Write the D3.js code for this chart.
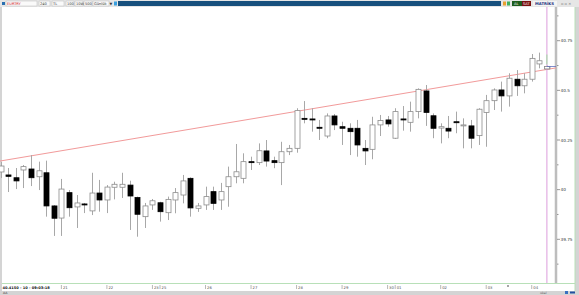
<!DOCTYPE html>
<html>
<head>
<meta charset="utf-8">
<script src="https://cdn.jsdelivr.net/npm/d3@7"></script>
<style>
  body { margin: 0; background: #fff; }
  svg { display: block; font-family: "DejaVu Sans", sans-serif; }
</style>
</head>
<body>
<script>
// candle data (4h bars)
var opens  = [40.089,40.074,40.060,40.099,40.104,40.065,40.085,39.918,39.857,39.985,39.913,39.928,39.893,39.983,39.948,40.012,40.012,40.023,39.960,39.864,39.923,39.934,39.884,39.948,39.973,40.057,39.906,39.923,39.990,39.948,40.015,40.065,40.057,40.141,40.136,40.195,40.146,40.136,40.191,40.208,40.359,40.356,40.314,40.270,40.371,40.317,40.309,40.309,40.208,40.203,40.326,40.351,40.259,40.356,40.339,40.393,40.497,40.372,40.310,40.309,40.342,40.321,40.321,40.272,40.389,40.448,40.502,40.472,40.556,40.523,40.556,40.633,40.608];
var highs  = [40.139,40.109,40.109,40.124,40.174,40.141,40.146,39.922,40.054,39.998,39.973,39.933,40.085,40.049,40.023,40.040,40.085,40.045,39.965,39.933,39.953,39.939,39.965,40.008,40.074,40.062,39.933,40.015,40.015,40.034,40.116,40.230,40.183,40.166,40.233,40.250,40.166,40.241,40.225,40.410,40.446,40.410,40.351,40.384,40.381,40.342,40.334,40.351,40.250,40.367,40.376,40.371,40.410,40.421,40.443,40.510,40.527,40.384,40.334,40.371,40.393,40.359,40.351,40.410,40.477,40.510,40.544,40.586,40.602,40.586,40.683,40.690,40.625];
var lows   = [40.059,39.988,40.003,40.008,40.018,39.998,39.864,39.767,39.767,39.864,39.807,39.882,39.872,39.889,39.882,39.951,39.958,39.797,39.763,39.807,39.898,39.839,39.847,39.881,39.931,39.864,39.888,39.898,39.898,39.898,39.914,40.032,40.032,40.099,40.124,40.116,40.108,40.023,40.174,40.186,40.334,40.292,40.250,40.259,40.300,40.225,40.174,40.166,40.124,40.153,40.270,40.317,40.255,40.297,40.292,40.359,40.321,40.259,40.233,40.259,40.284,40.208,40.208,40.225,40.216,40.401,40.393,40.418,40.472,40.485,40.544,40.611,40.605];
var closes = [40.119,40.067,40.044,40.116,40.060,40.095,39.918,39.856,40.003,39.909,39.933,39.925,39.983,39.948,40.013,40.027,40.027,39.968,39.876,39.918,39.944,39.889,39.951,39.985,40.044,39.908,39.918,39.965,39.931,39.990,40.065,40.090,40.141,40.136,40.196,40.144,40.136,40.191,40.208,40.398,40.354,40.352,40.310,40.371,40.326,40.309,40.292,40.225,40.195,40.326,40.348,40.331,40.393,40.351,40.393,40.505,40.389,40.309,40.317,40.295,40.337,40.326,40.259,40.405,40.448,40.502,40.472,40.561,40.523,40.556,40.661,40.649,40.620];

var dayIdx    = [8,14,20,21,27,33,39,45,51,52,58,64,70];
var dayLabels = ["21","22","23","25","26","27","28","29","30","01","02","03","04"];

var priceTicks  = [39.75,40,40.25,40.5,40.75];
var priceLabels = ["39.75","40","40.25","40.5","40.75"];

// trend line: [bar index, price]
var trendStart = [-0.1, 40.144];
var trendEnd   = [73.2, 40.613];

var width = 579;
var height = 295;
var svg = d3.select('body').append('svg')
  .attr('width', width)
  .attr('height', height);

var x = d3.scaleLinear().domain([0, 72]).range([0.7, 546.9]);
var y = d3.scaleLinear().domain([39.75, 40.75]).range([239.3, 40.7]);

var plotTop = 7, plotBottom = 283, axisX = 556;

// window frame
svg.append('rect').attr('x',0).attr('y',0).attr('width',width).attr('height',height).style('fill','#d4d4d4');
svg.append('rect').attr('x',2).attr('y',plotTop).attr('width',575-2).attr('height',plotBottom-plotTop).style('fill','#fff');
svg.append('rect').attr('x',2).attr('y',plotBottom).attr('width',575-2).attr('height',8).style('fill','#fff');

// top toolbar
var bar = svg.append('g');
bar.append('rect').attr('x',0).attr('y',0).attr('width',width).attr('height',7).style('fill','#e6e6e6');
bar.append('rect').attr('x',2).attr('y',2).attr('width',3).attr('height',3).style('fill','#2a6fb0');
var fields = [[6,31,'EURTRY','#d02020'],[39,11,'240','#333'],[52,12,'TL','#333'],[66,8,'100','#333'],[75,8,'10W','#333'],[84,8,'500','#333'],[93,16,'Günlük','#333']];
fields.forEach(function(f){
  bar.append('rect').attr('x',f[0]).attr('y',1).attr('width',f[1]).attr('height',5).style('fill','#fafafa').style('stroke','#bbb').style('stroke-width',0.5);
  bar.append('text').attr('x',f[0]+1).attr('y',5.2).text(f[2]).style('font-size','3.6px').style('fill',f[3]);
});
bar.append('text').attr('x',109.6).attr('y',5.3).text('▼').style('font-size','3.6px').style('fill','#333');
bar.append('rect').attr('x',114).attr('y',1.5).attr('width',3).attr('height',4).style('fill','#3aa0e0');
bar.append('rect').attr('x',118).attr('y',1).attr('width',383).attr('height',5).style('fill','#17507d');
bar.append('rect').attr('x',503).attr('y',1.5).attr('width',3).attr('height',4).style('fill','#e8a030');
bar.append('rect').attr('x',507).attr('y',1.5).attr('width',3).attr('height',4).style('fill','#40b060');
bar.append('rect').attr('x',512).attr('y',1).attr('width',10).attr('height',5).style('fill','#1d5c1d');
bar.append('text').attr('x',514).attr('y',5.2).text('AL').style('font-size','3.6px').style('fill','#fff');
bar.append('rect').attr('x',522).attr('y',1).attr('width',9).attr('height',5).style('fill','#7a1010');
bar.append('text').attr('x',523).attr('y',5.2).text('SAT').style('font-size','3.6px').style('fill','#fff');
bar.append('rect').attr('x',533).attr('y',1).attr('width',24).attr('height',5).style('fill','#f4f4f4');
bar.append('text').attr('x',535).attr('y',5.2).text('MATRİKS').style('font-size','3.8px').style('font-weight','bold').style('fill','#203080');
bar.append('text').attr('x',561).attr('y',5.2).text('▫ ▫ ×').style('font-size','3.6px').style('fill','#666');

// right price axis
svg.append('line').attr('x1',axisX).attr('x2',axisX).attr('y1',plotTop).attr('y2',plotBottom)
  .style('stroke','#bdbdbd').style('stroke-width',2.5);
svg.append('line').attr('x1',575).attr('x2',575).attr('y1',plotTop).attr('y2',plotBottom+8)
  .style('stroke','#b8e0b8').style('stroke-width',1);
svg.append('line').attr('x1',2).attr('x2',575).attr('y1',plotBottom+0.5).attr('y2',plotBottom+0.5)
  .style('stroke','#b8e0b8').style('stroke-width',1);

var minor = d3.range(39.625, 40.9, 0.25).filter(function(d){ return y(d) > plotTop && y(d) < plotBottom; });
svg.selectAll('.minor').data(minor).enter().append('line')
  .attr('x1',axisX+1).attr('x2',axisX+2.5)
  .attr('y1',function(d){return y(d);}).attr('y2',function(d){return y(d);})
  .style('stroke','#555').style('stroke-width',0.6);
svg.selectAll('.ptick').data(priceTicks).enter().append('line')
  .attr('x1',axisX+1).attr('x2',axisX+4)
  .attr('y1',function(d){return y(d);}).attr('y2',function(d){return y(d);})
  .style('stroke','#555').style('stroke-width',0.6);
svg.selectAll('.plabel').data(priceTicks).enter().append('text')
  .attr('x',axisX+4.5).attr('y',function(d){return y(d)+1.5;})
  .text(function(d,i){return priceLabels[i];})
  .style('font-size','4.2px').style('fill','#333');

// date axis
svg.selectAll('.dtick').data(dayIdx).enter().append('line')
  .attr('x1',function(d){return x(d);}).attr('x2',function(d){return x(d);})
  .attr('y1',plotBottom+2).attr('y2',plotBottom+6)
  .style('stroke','#888').style('stroke-width',0.6);
svg.selectAll('.dlabel').data(dayIdx).enter().append('text')
  .attr('x',function(d){return x(d)+1.5;}).attr('y',plotBottom+5.5)
  .text(function(d,i){return dayLabels[i];})
  .style('font-size','3.8px').style('fill','#555');
svg.append('rect').attr('x',2).attr('y',plotBottom+1.5).attr('width',48).attr('height',5).style('fill','#fff');
svg.append('text').attr('x',2.5).attr('y',plotBottom+5.5).text('40.4150 - 10 - 09:03:18')
  .style('font-size','3.6px').style('font-weight','bold').style('fill','#111');
svg.append('text').attr('x',3).attr('y',294).text('AA').style('font-size','3.2px').style('fill','#444');
svg.append('text').attr('x',540).attr('y',294).text('ukal').style('font-size','3.2px').style('fill','#666');
svg.append('rect').attr('x',565).attr('y',291).attr('width',3).attr('height',3).style('fill','#3a70c0');
svg.append('rect').attr('x',570).attr('y',291.5).attr('width',5).attr('height',2).style('fill','#2050a0');
svg.append('circle').attr('cx',508).attr('cy',plotBottom+3).attr('r',0.8).style('fill','#333');

// trend line
svg.append('line')
  .attr('x1',x(trendStart[0])).attr('y1',y(trendStart[1]))
  .attr('x2',x(trendEnd[0])).attr('y2',y(trendEnd[1]))
  .style('stroke','#f29a9a').style('stroke-width',1);

// candles
var candles = opens.map(function(o,i){
  return {i:i, o:o, h:highs[i], l:lows[i], c:closes[i]};
});
var bw = 5;
var g = svg.append('g');
g.selectAll('.wick').data(candles).enter().append('line')
  .attr('x1',function(d){return Math.round(x(d.i))+0.5;})
  .attr('x2',function(d){return Math.round(x(d.i))+0.5;})
  .attr('y1',function(d){return y(d.h);})
  .attr('y2',function(d){return y(d.l);})
  .style('stroke','#a8a8a8').style('stroke-width',1);
g.selectAll('.body').data(candles).enter().append('rect')
  .attr('x',function(d){return Math.round(x(d.i))-2;})
  .attr('y',function(d){return y(Math.max(d.o,d.c));})
  .attr('width',bw)
  .attr('height',function(d){return Math.max(1, Math.abs(y(d.o)-y(d.c)));})
  .style('fill',function(d){return d.c >= d.o ? '#fff' : '#000';})
  .style('stroke',function(d){return d.c >= d.o ? '#8c8c8c' : '#000';})
  .style('stroke-width',0.8);

// current time line and last price marker
var last = candles[candles.length-1];
svg.append('line').attr('x1',x(72)).attr('x2',x(72)).attr('y1',plotTop).attr('y2',plotBottom)
  .style('stroke','#dc9cdc').style('stroke-width',1);
svg.append('line').attr('x1',x(72)).attr('x2',x(72)).attr('y1',y(last.h)-11).attr('y2',y(last.h)-1)
  .style('stroke','#9ee09e').style('stroke-width',1);
svg.append('rect')
  .attr('x',x(72)-2.5).attr('y',y(Math.max(last.o,last.c)))
  .attr('width',bw).attr('height',Math.abs(y(last.o)-y(last.c)))
  .style('fill','#fff').style('stroke','#8c8c8c').style('stroke-width',0.8);
svg.append('line').attr('x1',x(72)).attr('x2',axisX).attr('y1',y(last.c)).attr('y2',y(last.c))
  .style('stroke','#6070c0').style('stroke-width',0.8);
</script>
</body>
</html>
